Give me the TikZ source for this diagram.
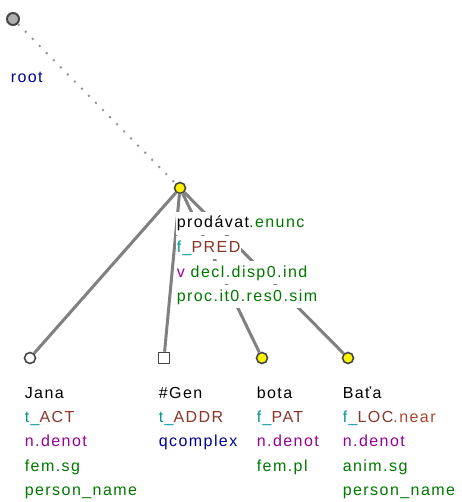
\documentclass[tikz,border=0pt]{standalone}
\usepackage{fontspec}
\setmainfont{Liberation Sans}[LetterSpace=9]
\usetikzlibrary{shapes.geometric, positioning, calc}
\definecolor{edgegray}{RGB}{128,128,128}
\definecolor{dotgray}{RGB}{150,150,150}
\definecolor{nodeline}{RGB}{70,70,70}
\definecolor{rootgray}{RGB}{175,175,175}
\definecolor{tgreen}{RGB}{0,120,0}
\definecolor{tteal}{RGB}{0,150,150}
\definecolor{tbrown}{RGB}{135,55,40}
\definecolor{tnear}{RGB}{170,70,45}
\definecolor{tpurple}{RGB}{150,0,150}
\definecolor{tnavy}{RGB}{0,0,150}

\begin{document}
\begin{tikzpicture}[x=1pt,y=-1pt,
		tnode/.style={circle,minimum size=11pt,inner sep=0pt,line width=1.6pt,draw=nodeline},
		tbox/.style={rectangle,minimum size=11pt,inner sep=0pt,line width=1.6pt,draw=nodeline,fill=white},
		tedge/.style={line width=3pt,draw=edgegray},
		rootedge/.style={line width=2pt,draw=dotgray,dash pattern=on 2pt off 8pt},
		tline/.style={anchor=base west,inner xsep=0.6pt,inner ysep=4pt,fill=white,font=\fontsize{16}{16}\selectfont}]
		\useasboundingbox (0,0) rectangle (461,502);
		\node(1) at (13,19)[tnode,minimum size=12pt,line width=2pt,fill=rootgray]{};
		\node(2) at (180,188)[tnode,fill=yellow]{};
		\node(3) at (30,358)[tnode,fill=white]{};
		\node(4) at (164,358)[tbox]{};
		\node(5) at (262,358)[tnode,fill=yellow]{};
		\node(6) at (348,358)[tnode,fill=yellow]{};
		
		\draw[rootedge] (1) to (2);
		\draw[tedge] (2) to (3);
		\draw[tedge] (2) to (4);
		\draw[tedge] (2) to (5);
		\draw[tedge] (2) to (6);
		
		\node(1a) at (10,83)[tline]{\textcolor{tnavy}{root}};
		
		\node(2a) at (176,228)[tline]{prodávat\textcolor{tgreen}{.enunc}};
		\node(2b) at (176,252)[tline]{\textcolor{tteal}{f\_}\textcolor{tbrown}{PRED}};
		\node(2c) at (176,277)[tline]{\textcolor{tpurple}{v} \textcolor{tgreen}{decl.disp0.ind}};
		\node(2d) at (176,301)[tline]{\textcolor{tgreen}{proc.it0.res0.sim}};
		
		\node(3a) at (24,398)[tline]{Jana};
		\node(3b) at (24,422)[tline]{\textcolor{tteal}{t\_}\textcolor{tbrown}{ACT}};
		\node(3c) at (24,446)[tline]{\textcolor{tpurple}{n.denot}};
		\node(3d) at (24,471)[tline]{\textcolor{tgreen}{fem.sg}};
		\node(3e) at (24,495)[tline]{\textcolor{tgreen}{person\_name}};
		
		\node(4a) at (158,398)[tline]{\#Gen};
		\node(4b) at (158,422)[tline]{\textcolor{tteal}{t\_}\textcolor{tbrown}{ADDR}};
		\node(4c) at (158,446)[tline]{\textcolor{tnavy}{qcomplex}};
		
		\node(5a) at (256,398)[tline]{bota};
		\node(5b) at (256,422)[tline]{\textcolor{tteal}{f\_}\textcolor{tbrown}{PAT}};
		\node(5c) at (256,446)[tline]{\textcolor{tpurple}{n.denot}};
		\node(5d) at (256,471)[tline]{\textcolor{tgreen}{fem.pl}};
		
		\node(6a) at (342,398)[tline]{Baťa};
		\node(6b) at (342,422)[tline]{\textcolor{tteal}{f\_}\textcolor{tbrown}{LOC}\textcolor{tnear}{.near}};
		\node(6c) at (342,446)[tline]{\textcolor{tpurple}{n.denot}};
		\node(6d) at (342,471)[tline]{\textcolor{tgreen}{anim.sg}};
		\node(6e) at (342,495)[tline]{\textcolor{tgreen}{person\_name}};
		
	\end{tikzpicture}
\end{document}
